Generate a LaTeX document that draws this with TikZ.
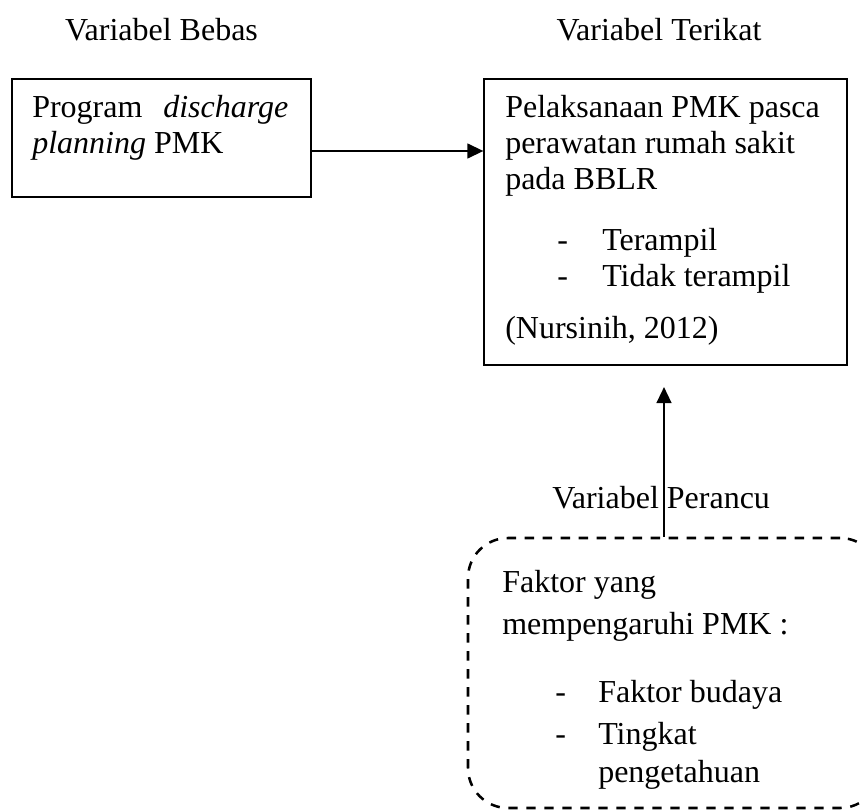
\documentclass[tikz,border=0pt]{standalone}
\usepackage{fontspec}
\setmainfont{Liberation Serif}
\usetikzlibrary{arrows.meta}
\begin{document}
\begin{tikzpicture}[x=0.75pt,y=-0.75pt,
  txt/.style={anchor=base west,inner sep=0pt,font=\fontsize{24}{28}\selectfont},
  ctxt/.style={anchor=base,inner sep=0pt,font=\fontsize{24}{28}\selectfont},
  solidbox/.style={draw,line width=0.9pt,inner sep=0pt},
  dashbox/.style={draw,line width=1.9pt,dash pattern=on 7pt off 6.5pt,rounded corners=30pt,inner sep=0pt},
  conn/.style={line width=1.7pt,-{Triangle[length=12pt,width=11pt]}}]
\useasboundingbox (0,0) rectangle (863,810);
% headings
\node[ctxt] (hbebas) at (161.5,40) {Variabel Bebas};
\node[ctxt] (hterikat) at (659,40) {Variabel Terikat};
% boxes
\node[solidbox,minimum width=224.25pt,minimum height=88.5pt] (lbox) at (161.5,138) {};
\node[solidbox,minimum width=272.25pt,minimum height=214.5pt] (rbox) at (665.5,222) {};
\node[dashbox,minimum width=309pt,minimum height=202.5pt] (dbox) at (674,673) {};
% left box text
\node[txt] (l1) at (32,117) {\makebox[192pt][l]{Program\hfill\textit{discharge}}};
\node[txt] (l2) at (32,153) {\textit{planning} PMK};
% right box text
\node[txt] (r1) at (505,117) {Pelaksanaan PMK pasca};
\node[txt] (r2) at (505,153) {perawatan rumah sakit};
\node[txt] (r3) at (505,189) {pada BBLR};
\node[txt] (r4d) at (557,250) {-};
\node[txt] (r4) at (602,250) {Terampil};
\node[txt] (r5d) at (557,286) {-};
\node[txt] (r5) at (602,286) {Tidak terampil};
\node[txt] (r6) at (505,338) {(Nursinih, 2012)};
% perancu label
\node[txt] (hperancu) at (552,508) {Variabel Perancu};
% dashed box text
\node[txt] (d1) at (502,592) {Faktor yang};
\node[txt] (d2) at (502,634) {mempengaruhi PMK :};
\node[txt] (d3d) at (555,702) {-};
\node[txt] (d3) at (598,702) {Faktor budaya};
\node[txt] (d4d) at (555,744) {-};
\node[txt] (d4) at (598,744) {Tingkat};
\node[txt] (d5) at (598,782) {pengetahuan};
% connectors
\coordinate (ay) at (0,151);
\draw[conn] (lbox.east |- ay) -- (rbox.west |- ay);
\coordinate (vx) at (664,0);
\coordinate (vend) at (664,387);
\draw[conn] (dbox.north -| vx) -- (vend);
\end{tikzpicture}
\end{document}
